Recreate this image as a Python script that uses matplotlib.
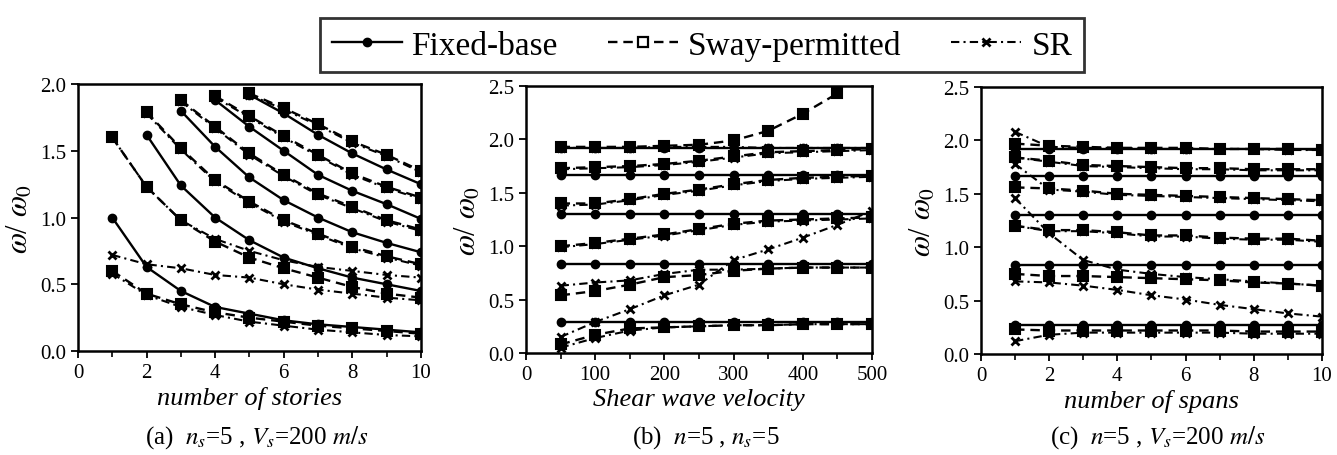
import numpy as np
import matplotlib
matplotlib.use('Agg')
import matplotlib.pyplot as plt
from matplotlib.lines import Line2D
from matplotlib.ticker import MultipleLocator

plt.rcParams['font.family'] = ['Liberation Serif', 'DejaVu Serif']
plt.rcParams['mathtext.fontset'] = 'stix'

nan = np.nan

# (a) n_s=5, Vs=200 m/s  -> x: number of stories
stories = [1, 2, 3, 4, 5, 6, 7, 8, 9, 10]
fixed_a = [
    [1.00, 0.63, 0.45, 0.33, 0.28, 0.23, 0.20, 0.18, 0.16, 0.14],
    [nan, 1.62, 1.24, 1.00, 0.83, 0.70, 0.62, 0.55, 0.50, 0.45],
    [nan, nan, 1.80, 1.53, 1.30, 1.13, 1.00, 0.89, 0.81, 0.74],
    [nan, nan, nan, 1.88, 1.68, 1.50, 1.32, 1.20, 1.10, 0.99],
    [nan, nan, nan, nan, 1.92, 1.78, 1.62, 1.48, 1.36, 1.25],
]
sway_a = [
    [0.60, 0.43, 0.35, 0.29, 0.25, 0.22, 0.19, 0.17, 0.15, 0.13],
    [1.60, 1.23, 0.98, 0.82, 0.70, 0.62, 0.55, 0.48, 0.43, 0.40],
    [nan, 1.79, 1.52, 1.28, 1.12, 0.98, 0.88, 0.78, 0.71, 0.65],
    [nan, nan, 1.88, 1.68, 1.48, 1.32, 1.18, 1.08, 0.98, 0.91],
    [nan, nan, nan, 1.91, 1.76, 1.61, 1.47, 1.33, 1.23, 1.15],
    [nan, nan, nan, nan, 1.93, 1.82, 1.70, 1.57, 1.47, 1.35],
]
sr_a = [
    [0.58, 0.42, 0.33, 0.27, 0.22, 0.19, 0.16, 0.14, 0.12, 0.11],
    [0.72, 0.65, 0.62, 0.57, 0.55, 0.50, 0.46, 0.43, 0.40, 0.38],
    [1.60, 1.23, 0.98, 0.84, 0.75, 0.68, 0.63, 0.60, 0.57, 0.55],
    [nan, 1.78, 1.51, 1.27, 1.11, 0.97, 0.87, 0.77, 0.70, 0.64],
    [nan, nan, 1.87, 1.67, 1.47, 1.31, 1.17, 1.07, 0.97, 0.90],
    [nan, nan, nan, 1.90, 1.75, 1.60, 1.46, 1.32, 1.22, 1.14],
    [nan, nan, nan, nan, 1.92, 1.81, 1.69, 1.56, 1.46, 1.34],
]

# (b) n=5, n_s=5 -> x: shear wave velocity
vs = [50, 100, 150, 200, 250, 300, 350, 400, 450, 500]
fixed_b = [
    [1.92, 1.92, 1.92, 1.92, 1.92, 1.92, 1.92, 1.92, 1.92, 1.92],
    [1.67, 1.67, 1.67, 1.67, 1.67, 1.67, 1.67, 1.67, 1.67, 1.67],
    [1.30, 1.30, 1.30, 1.30, 1.30, 1.30, 1.30, 1.30, 1.30, 1.30],
    [0.83, 0.83, 0.83, 0.83, 0.83, 0.83, 0.83, 0.83, 0.83, 0.83],
    [0.29, 0.29, 0.29, 0.29, 0.29, 0.29, 0.29, 0.29, 0.29, 0.29],
]
sway_b = [
    [1.93, 1.93, 1.93, 1.94, 1.95, 1.99, 2.08, 2.24, 2.43, nan],
    [1.73, 1.74, 1.75, 1.77, 1.80, 1.84, 1.88, 1.89, 1.90, 1.91],
    [1.40, 1.40, 1.44, 1.49, 1.53, 1.58, 1.62, 1.64, 1.65, 1.66],
    [1.00, 1.03, 1.07, 1.11, 1.16, 1.21, 1.24, 1.25, 1.26, 1.27],
    [0.54, 0.58, 0.64, 0.71, 0.73, 0.77, 0.79, 0.80, 0.80, 0.80],
    [0.08, 0.17, 0.23, 0.24, 0.25, 0.26, 0.26, 0.27, 0.27, 0.27],
]
sr_b = [
    [0.05, 0.14, 0.21, 0.24, 0.25, 0.26, 0.26, 0.27, 0.27, 0.27],
    [0.15, 0.29, 0.41, 0.54, 0.64, 0.87, 0.97, 1.08, 1.20, 1.33],
    [0.63, 0.66, 0.68, 0.74, 0.78, 0.78, 0.79, 0.80, 0.80, 0.80],
    [0.99, 1.02, 1.06, 1.10, 1.15, 1.20, 1.23, 1.24, 1.25, 1.26],
    [1.38, 1.39, 1.43, 1.48, 1.52, 1.57, 1.61, 1.63, 1.64, 1.65],
    [1.72, 1.73, 1.74, 1.76, 1.79, 1.83, 1.87, 1.88, 1.89, 1.90],
    [1.92, 1.92, 1.92, 1.93, 1.93, 1.93, 1.92, 1.92, 1.92, 1.92],
]

# (c) n=5, Vs=200 m/s -> x: number of spans
spans = [1, 2, 3, 4, 5, 6, 7, 8, 9, 10]
fixed_c = [
    [1.92, 1.92, 1.92, 1.92, 1.92, 1.92, 1.92, 1.92, 1.92, 1.92],
    [1.67, 1.67, 1.67, 1.67, 1.67, 1.67, 1.67, 1.67, 1.67, 1.67],
    [1.30, 1.30, 1.30, 1.30, 1.30, 1.30, 1.30, 1.30, 1.30, 1.30],
    [0.83, 0.83, 0.83, 0.83, 0.83, 0.83, 0.83, 0.83, 0.83, 0.83],
    [0.27, 0.27, 0.27, 0.27, 0.27, 0.27, 0.27, 0.27, 0.27, 0.27],
]
sway_c = [
    [1.97, 1.95, 1.94, 1.93, 1.93, 1.93, 1.92, 1.92, 1.92, 1.91],
    [1.84, 1.81, 1.77, 1.76, 1.75, 1.74, 1.74, 1.73, 1.73, 1.73],
    [1.56, 1.55, 1.53, 1.50, 1.49, 1.48, 1.47, 1.46, 1.45, 1.44],
    [1.20, 1.16, 1.16, 1.14, 1.11, 1.11, 1.09, 1.08, 1.08, 1.06],
    [0.75, 0.73, 0.73, 0.72, 0.71, 0.70, 0.69, 0.67, 0.66, 0.64],
    [0.23, 0.22, 0.22, 0.22, 0.22, 0.22, 0.22, 0.21, 0.21, 0.21],
]
sr_c = [
    [0.12, 0.18, 0.20, 0.20, 0.20, 0.20, 0.20, 0.19, 0.19, 0.19],
    [0.68, 0.67, 0.64, 0.60, 0.55, 0.51, 0.46, 0.42, 0.38, 0.35],
    [1.46, 1.13, 0.88, 0.79, 0.75, 0.72, 0.70, 0.68, 0.66, 0.64],
    [1.20, 1.15, 1.15, 1.13, 1.10, 1.10, 1.08, 1.07, 1.07, 1.05],
    [1.78, 1.54, 1.52, 1.49, 1.48, 1.47, 1.46, 1.45, 1.44, 1.43],
    [1.84, 1.80, 1.76, 1.75, 1.74, 1.73, 1.73, 1.72, 1.72, 1.72],
    [2.08, 1.94, 1.93, 1.93, 1.92, 1.92, 1.92, 1.92, 1.91, 1.91],
]

# line styles
fb_kw = dict(color='black', lw=1.7, ls='-', marker='o', ms=6)
sw_kw = dict(color='black', lw=1.7, ls=(0, (4, 2.5)), marker='s', ms=6.5,
             mfc='black', mec='black', mew=1.5)
sr_kw = dict(color='black', lw=1.5, ls=(0, (4, 2, 1, 2)), marker='x', ms=6,
             mew=2)

fig = plt.figure(figsize=(13.37, 4.56), dpi=100)
axes = [fig.add_axes([0.0583, 0.228, 0.2565, 0.5855]),
        fig.add_axes([0.3934, 0.2237, 0.2588, 0.5855]),
        fig.add_axes([0.7337, 0.2215, 0.2550, 0.5855])]

panels = [
    (stories, fixed_a, sway_a, sr_a, (0, 10), (0, 2.0), 2, 1,
     'number of stories', r'(a)  $n_s$=5 , $V_s$=200 $m/s$'),
    (vs, fixed_b, sway_b, sr_b, (0, 500), (0, 2.5), 100, 50,
     'Shear wave velocity', r'(b)  $n$=5 , $n_s$=5'),
    (spans, fixed_c, sway_c, sr_c, (0, 10), (0, 2.5), 2, 1,
     'number of spans', r'(c)  $n$=5 , $V_s$=200 $m/s$'),
]

for ax, (x, fb, sw, sr, xl, yl, xmaj, xmin, xlab, cap) in zip(axes, panels):
    for y in sr:
        ax.plot(x, y, **sr_kw)
    for y in sw:
        ax.plot(x, y, **sw_kw)
    for y in fb:
        ax.plot(x, y, **fb_kw)
    ax.set_xlim(*xl)
    ax.set_ylim(*yl)
    ax.xaxis.set_major_locator(MultipleLocator(xmaj))
    ax.xaxis.set_minor_locator(MultipleLocator(xmin))
    ax.yaxis.set_major_locator(MultipleLocator(0.5))
    ax.yaxis.set_major_formatter(plt.FormatStrFormatter('%.1f'))
    ax.tick_params(direction='out', labelsize=15, width=1.3, length=5)
    ax.tick_params(which='minor', direction='out', width=1.2, length=4)
    for sp in ax.spines.values():
        sp.set_linewidth(1.8)
    ax.set_xlabel(xlab, fontsize=19, style='italic', labelpad=3)
    ax.set_ylabel(r'$\omega$/ $\omega_0$', fontsize=22, labelpad=4)
    # caption under each panel
    fig.text((ax.get_position().x0 + ax.get_position().x1) / 2 + 0.005,
             0.04, cap, ha='center', va='center', fontsize=18)

handles = [
    Line2D([], [], **fb_kw),
    Line2D([], [], **dict(sw_kw, mfc='white', mew=1.6)),
    Line2D([], [], **sr_kw),
]
labels = ['Fixed-base', 'Sway-permitted', 'SR']
leg = fig.legend(handles, labels, loc='upper center', ncol=3,
                 bbox_to_anchor=(0.525, 0.995), fontsize=24, frameon=True,
                 fancybox=False, edgecolor='black', handlelength=2.1,
                 columnspacing=1.5, handletextpad=0.3, borderpad=0.35)
leg.get_frame().set_linewidth(2)

fig.savefig('out.png', dpi=100)
